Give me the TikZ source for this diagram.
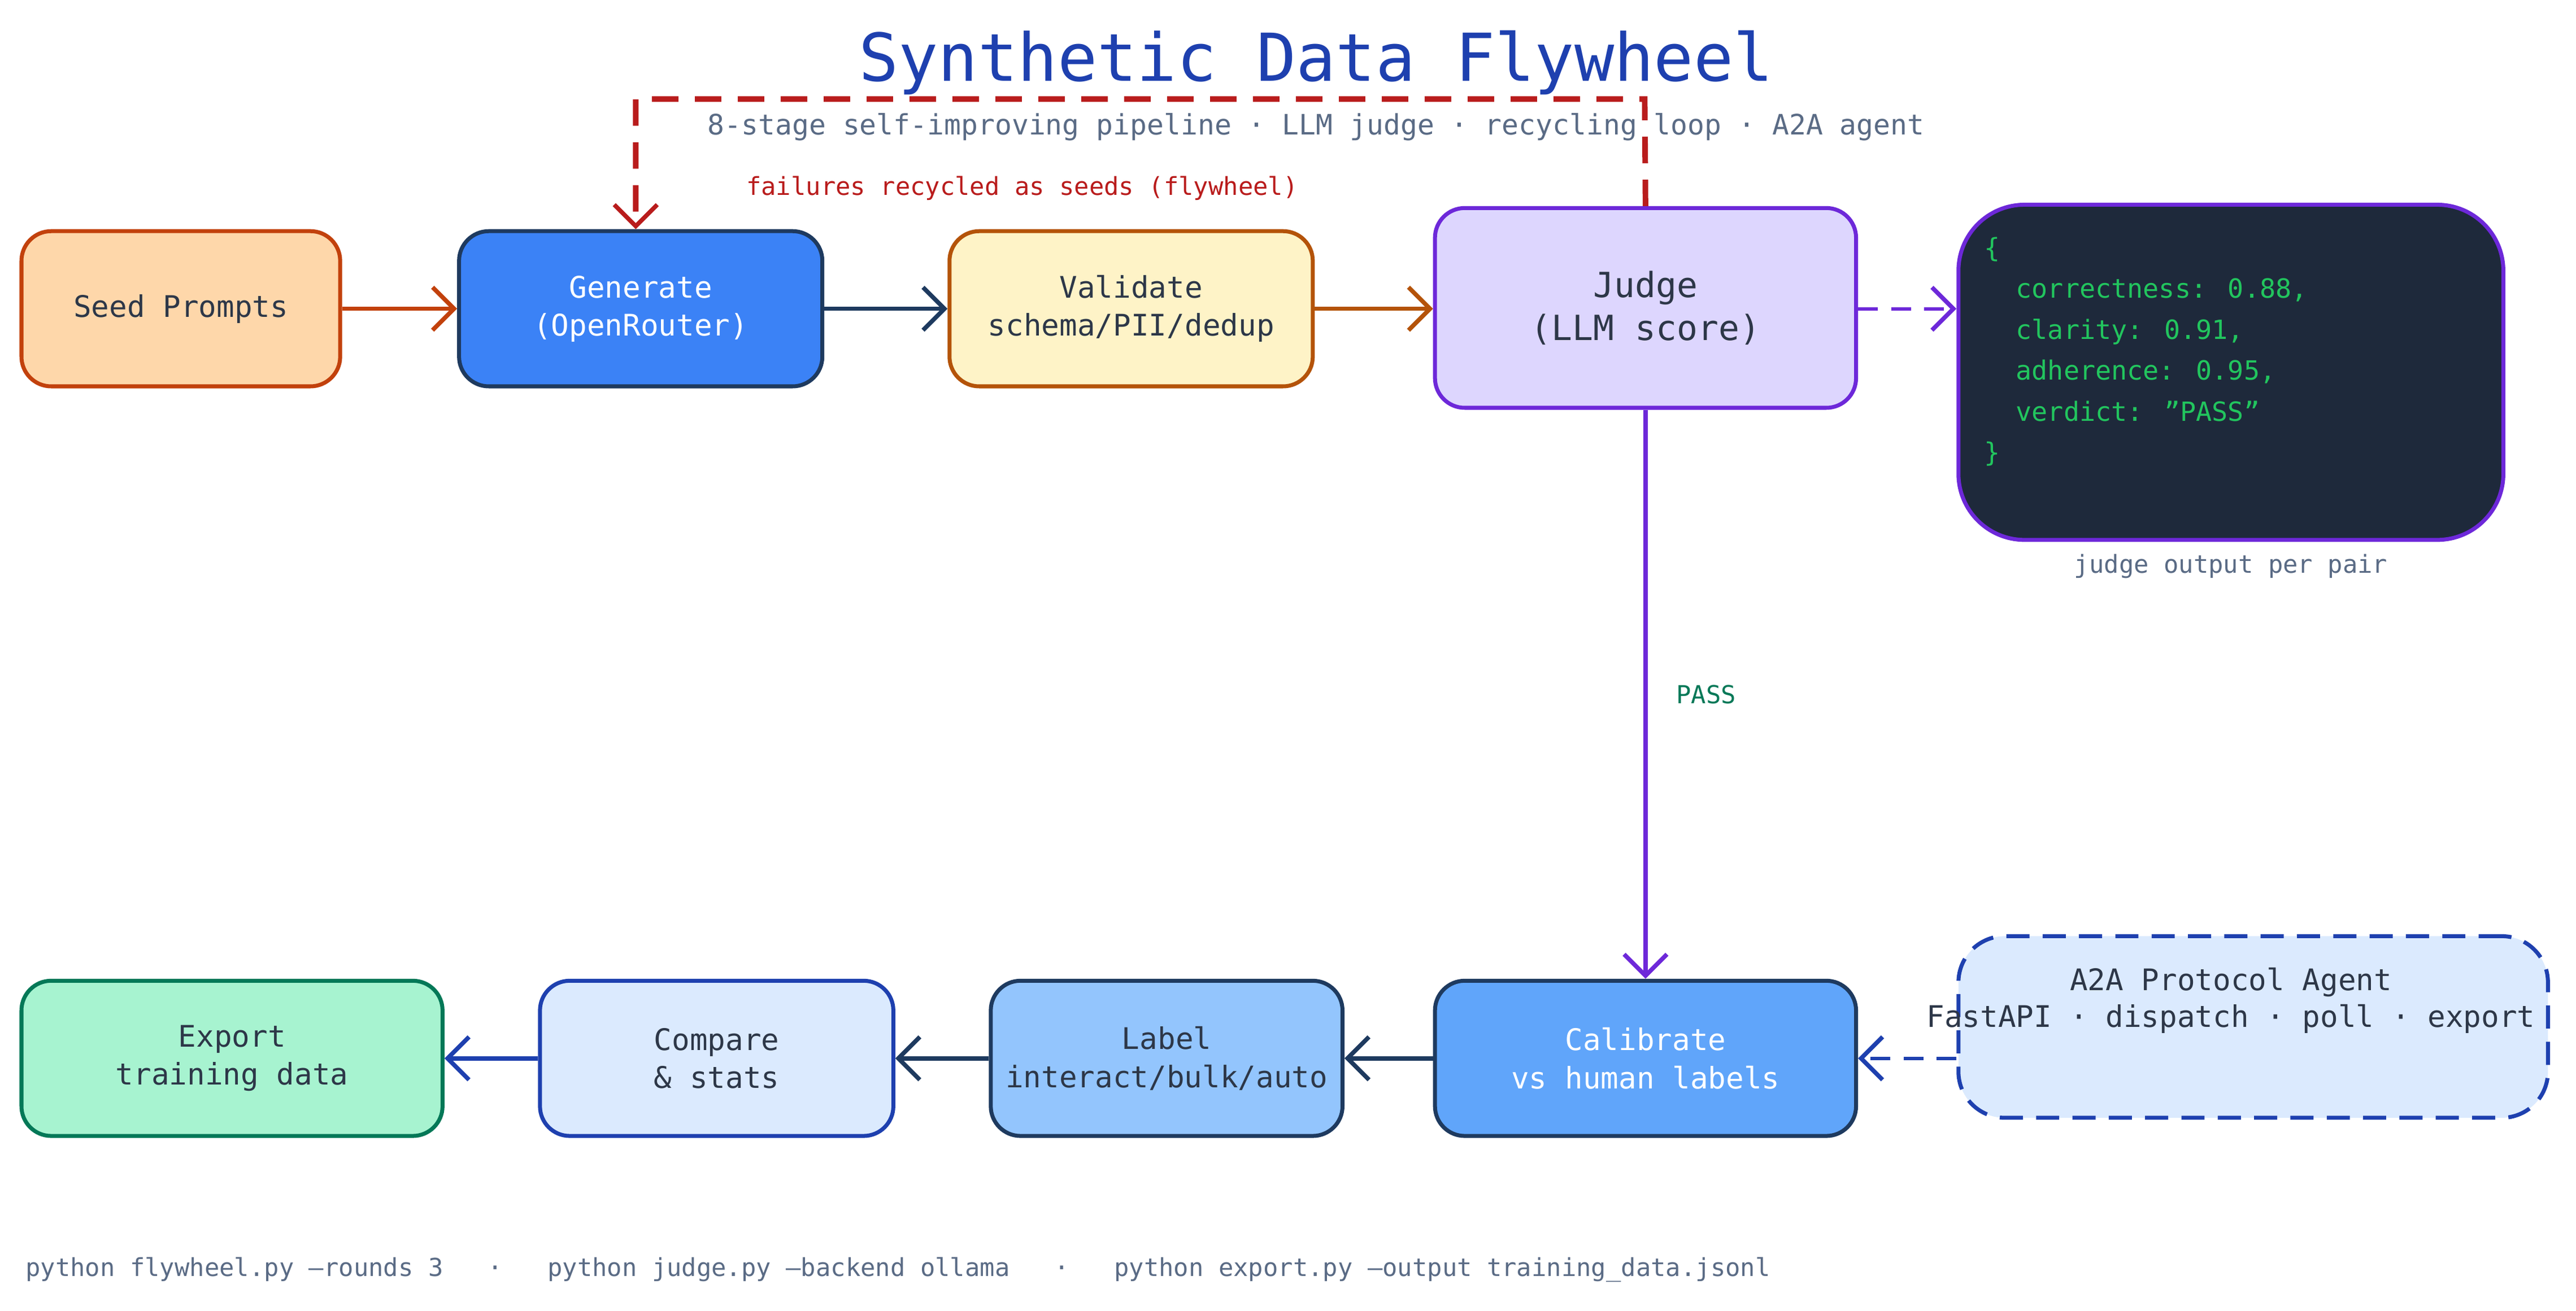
\documentclass[tikz,border=0pt]{standalone}
\usepackage{fontspec}
\setmainfont{DejaVu Sans Mono}
\usetikzlibrary{arrows.meta,positioning}
\definecolor{titleblue}{HTML}{1E40AF}
\definecolor{subgray}{HTML}{5A6B85}
\definecolor{navy}{HTML}{1E3A5F}
\definecolor{rust}{HTML}{C2410C}
\definecolor{amber}{HTML}{B45309}
\definecolor{violet}{HTML}{6D28D9}
\definecolor{failred}{HTML}{B91C1C}
\definecolor{passgreen}{HTML}{047857}
\definecolor{codegreen}{HTML}{22C55E}
\definecolor{seedfill}{HTML}{FED7AA}
\definecolor{genfill}{HTML}{3B82F6}
\definecolor{valfill}{HTML}{FEF3C7}
\definecolor{judgefill}{HTML}{DDD6FE}
\definecolor{codefill}{HTML}{1E293B}
\definecolor{calfill}{HTML}{60A5FA}
\definecolor{labfill}{HTML}{93C5FD}
\definecolor{palefill}{HTML}{DBEAFE}
\definecolor{expfill}{HTML}{A7F3D0}
\definecolor{inktext}{HTML}{2D3748}
\tikzset{
  stage/.style={draw, line width=2.4pt, rounded corners=18pt, align=center,
    font=\fontsize{18}{23}\selectfont, text=inktext, inner sep=0pt},
  flow/.style={line width=2.6pt, -{Straight Barb[length=13pt,width=26pt,line width=2.6pt]}},
}
\begin{document}
\begin{tikzpicture}[x=1pt,y=-1pt]
\useasboundingbox[fill=white] (0,0) rectangle (1560,794);
% title
\node[text=titleblue, font=\fontsize{40}{46}\selectfont] (title) at (797,38) {Synthetic Data Flywheel};
\node[text=subgray, font=\fontsize{17}{20}\selectfont] (sub) at (797,77) {8-stage self-improving pipeline · LLM judge · recycling loop · A2A agent};
% top row
\node[stage, fill=seedfill, draw=rust, minimum width=193pt, minimum height=94pt] (seed) at (109.5,187) {Seed Prompts};
\node[stage, fill=genfill, draw=navy, text=white, minimum width=220pt, minimum height=94pt] (gen) at (388,187) {Generate\\(OpenRouter)};
\node[stage, fill=valfill, draw=amber, minimum width=220pt, minimum height=94pt] (val) at (685,187) {Validate\\schema/PII/dedup};
\node[stage, fill=judgefill, draw=violet, minimum width=255pt, minimum height=121pt, font=\fontsize{21}{26}\selectfont] (judge) at (996.5,186.5) {Judge\\(LLM score)};
\node[stage, fill=codefill, draw=violet, minimum width=330pt, minimum height=203pt, rounded corners=40pt] (json) at (1351,225.5) {};
\node[text=codegreen, font=\fontsize{16}{24.8}\selectfont, align=left, anchor=north west] (code) at (1198,140) {\{\\\ \ correctness: 0.88,\\\ \ clarity: 0.91,\\\ \ adherence: 0.95,\\\ \ verdict: "PASS"\\\}};
\node[text=subgray, font=\fontsize{15}{18}\selectfont] (cap) at (1351,343) {judge output per pair};
% bottom row
\node[stage, fill=calfill, draw=navy, text=white, minimum width=255pt, minimum height=94pt] (cal) at (996.5,641) {Calibrate\\vs human labels};
\node[stage, fill=labfill, draw=navy, minimum width=213pt, minimum height=94pt] (lab) at (706.5,641) {Label\\interact/bulk/auto};
\node[stage, fill=palefill, draw=titleblue, minimum width=214pt, minimum height=94pt] (cmp) at (434,641) {Compare\\\& stats};
\node[stage, fill=expfill, draw=passgreen, minimum width=255pt, minimum height=94pt] (exp) at (140.5,641) {Export\\training data};
\node[stage, fill=palefill, draw=titleblue, dash pattern=on 14pt off 8pt, rounded corners=28pt, minimum width=357pt, minimum height=110pt] (a2a) at (1364.5,622) {};
\node[text=inktext, font=\fontsize{18}{22}\selectfont, align=center] (a2at) at (1351,606) {A2A Protocol Agent\\FastAPI · dispatch · poll · export};
% connectors
\draw[flow, draw=rust] (seed) -- (gen);
\draw[flow, draw=navy] (gen) -- (val);
\draw[flow, draw=amber] (val) -- (judge.west |- val);
\draw[flow, draw=violet, line width=2pt, dash pattern=on 12pt off 8pt] (judge.east |- val) -- (json.west |- val);
\draw[flow, draw=violet] (judge) -- node[right=14pt, text=passgreen, font=\fontsize{15}{18}\selectfont] {PASS} (cal);
\draw[flow, draw=navy] (cal) -- (lab);
\draw[flow, draw=navy] (lab) -- (cmp);
\draw[flow, draw=titleblue] (cmp) -- (exp);
\draw[flow, draw=titleblue, line width=2pt, dash pattern=on 12pt off 8pt] (a2a.west |- cal) -- (cal);
\coordinate (loopR) at (996,60);
\coordinate (loopL) at (385,60);
\draw[flow, draw=failred, line width=3.4pt, dash pattern=on 16pt off 10pt] (judge.north) -- (loopR) -- (loopL) -- (gen.north -| loopL);
\node[text=failred, font=\fontsize{15}{18}\selectfont] (failtxt) at (619,114) {failures recycled as seeds (flywheel)};
% footer
\node[text=subgray, font=\fontsize{15}{18}\selectfont, anchor=west] (foot) at (12,769) {python flywheel.py --rounds 3 \ \ · \ \ python judge.py --backend ollama \ \ · \ \ python export.py --output training\_data.jsonl};
\end{tikzpicture}
\end{document}
